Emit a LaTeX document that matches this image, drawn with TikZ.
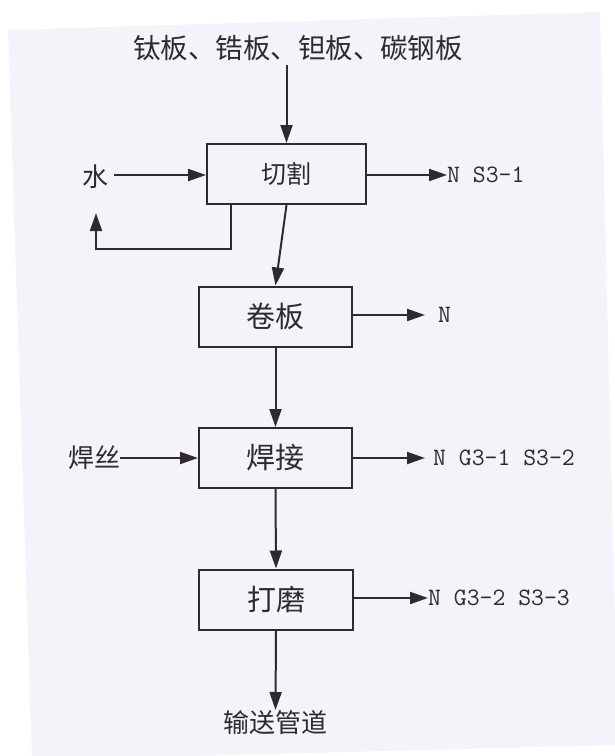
\documentclass[tikz,border=0pt]{standalone}
\usepackage{fontspec}
\newfontfamily\cjk{Noto Sans CJK SC}
\usetikzlibrary{arrows.meta}
\definecolor{ink}{HTML}{2E2A2E}
\definecolor{paper}{HTML}{F3F3F9}
\begin{document}
\begin{tikzpicture}[x=1pt,y=-1pt,
  proc/.style={draw=ink,line width=2pt,minimum width=153pt,minimum height=60pt,inner sep=0pt,font=\cjk\fontsize{29}{29}\selectfont,text=ink},
  lab/.style={inner sep=0pt,font=\cjk\fontsize{26}{26}\selectfont,text=ink},
  tag/.style={inner sep=0pt,font=\ttfamily\fontsize{25}{25}\selectfont,text=ink,anchor=west},
  flow/.style={draw=ink,line width=2pt,-{Triangle[length=18pt,width=12pt]}}]
\useasboundingbox (0,0) rectangle (614,756);
\fill[paper] (8,30) -- (600,12) -- (618,745) -- (32,760) -- cycle;

\node[lab,font=\cjk\fontsize{27.5}{27.5}\selectfont] (src) at (298,48) {钛板、锆板、钽板、碳钢板};
\node[proc,minimum width=159pt,font=\cjk\fontsize{25}{25}\selectfont] (b1) at (286.5,174) {切割};
\node[proc] (b2) at (275.5,316.5) {卷板};
\node[proc] (b3) at (275.5,458) {焊接};
\node[proc,minimum width=154pt] (b4) at (276,599.5) {打磨};

\node[lab] (water) at (95,177) {水};
\coordinate (ret) at (96,213);
\node[lab] (wire) at (94,458) {焊丝};
\node[lab,anchor=north] (pipe) at (275.5,710) {输送管道};

\node[tag] (o1) at (447,175) {N S3-1};
\node[tag] (o2) at (438,315) {N};
\node[tag] (o3) at (433,458) {N G3-1 S3-2};
\node[tag] (o4) at (428,598) {N G3-2 S3-3};

\draw[flow] (b1.north |- 0,65) -- (b1.north);
\draw[flow] ([xshift=6pt]water.east |- 0,175) -- (b1.west |- 0,175);
\draw[flow] (b1.east |- 0,175) -- (o1.west);
\draw[flow] ([xshift=-55.5pt]b1.south) -- ++(0,44) -| (ret);
\draw[flow] (b1.south) -- (b2.north);
\draw[flow] (b2.east |- 0,315) -- ([xshift=-13pt]o2.west);
\draw[flow] (b2.south) -- (b3.north);
\draw[flow] (wire.east) -- (b3.west);
\draw[flow] (b3.east) -- ([xshift=-8pt]o3.west);
\draw[flow] (b3.south) -- (b4.north);
\draw[flow] (b4.east |- 0,598) -- (o4.west);
\draw[flow] (b4.south) -- (pipe.north);
\end{tikzpicture}
\end{document}
